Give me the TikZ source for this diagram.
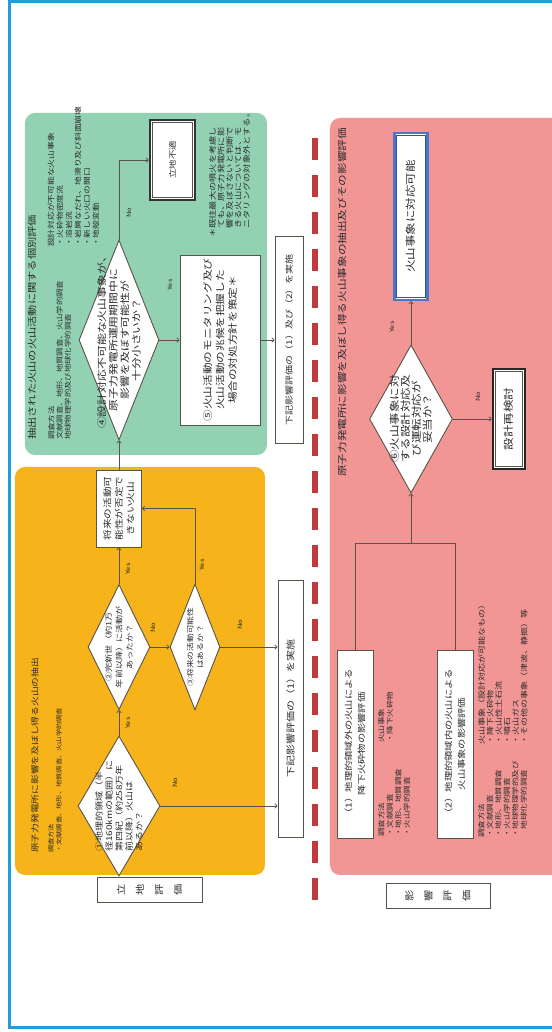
\documentclass[tikz,border=0pt]{standalone}
\usepackage{fontspec}
\usetikzlibrary{shapes.geometric,arrows.meta}
\newfontfamily\jp[FakeStretch=1.25]{Noto Sans CJK JP}
\definecolor{orng}{HTML}{F7B31A}
\definecolor{grn}{HTML}{92D2B3}
\definecolor{pnk}{HTML}{F29595}
\definecolor{frm}{HTML}{1E9FDB}
\definecolor{rdash}{HTML}{C0393B}
\definecolor{ln}{HTML}{5A5248}
\definecolor{txt}{HTML}{2B2B2B}
\definecolor{okblue}{HTML}{4A78C8}
\newcommand{\fs}[2]{\fontsize{#1}{#2}\selectfont}
\begin{document}
\begin{tikzpicture}[x=1pt,y=1pt,rotate=90,transform shape,
  box/.style={draw=ln, fill=white, line width=0.9pt, inner sep=1pt, align=center, text=txt},
  dia/.style={diamond, draw=ln, fill=white, line width=0.9pt, inner sep=0pt},
  dtext/.style={align=center, text=txt, inner sep=0pt},
  txtl/.style={align=left, text=txt, inner sep=0pt, anchor=north west},
  arr/.style={draw=ln, line width=0.8pt, -{To[length=3pt,width=5pt]}},
  lnk/.style={draw=ln, line width=0.8pt},
  yn/.style={text=txt, font=\jp\fs{6}{7}, inner sep=0pt},
  panel/.style={rounded corners=10pt, draw=none},
]
\useasboundingbox (0,0) rectangle (1032,551);
% panels
\path[panel, fill=orng] (157,286) rectangle (565,536);
\path[panel, fill=grn] (577,284) rectangle (919,526);
\path[panel, fill=pnk] (157,-30) rectangle (914,221);
% frame
\draw[frm, line width=3pt] (4,-10) -- (4,541) -- (1030,541) -- (1030,-10);
% dashed separator
\draw[rdash, line width=6pt, dash pattern=on 22pt off 15pt] (894,236) -- (130,236);

% section labels
\node[box, line width=0.8pt, minimum width=25, minimum height=105, font=\jp\fs{9}{19}] (lab1) at (142.5,401.5) {立\\地\\評\\価};
\node[box, line width=0.8pt, minimum width=25, minimum height=104, font=\jp\fs{9}{19}] (lab2) at (136.5,113) {影\\響\\評\\価};

% orange panel texts
\node[txtl, anchor=west, font=\jp\fs{7.8}{9}] (ot) at (179,516) {原子力発電所に影響を及ぼし得る火山の抽出};
\node[txtl, font=\jp\fs{5.8}{8}] (om) at (179,503) {調査方法\\・文献調査、地形、地質調査、火山学的調査};

% diamonds in orange
\node[dia, minimum width=140, minimum height=82] (d1) at (226,432) {};
\node[dtext, align=left, font=\jp\fs{8}{10}] (d1t) at (d1) {①地理的領域（半\\径160kmの範囲）に\\第四紀（約258万年\\前以降）火山は\\あるか？};
\node[dia, minimum width=125, minimum height=62] (d2) at (385,432) {};
\node[dtext, font=\jp\fs{7.3}{10.5}] (d2t) at (d2) {②完新世（約1万\\年前以降）に活動が\\あったか？};
\node[dia, minimum width=126, minimum height=50] (d3) at (385,356) {};
\node[dtext, font=\jp\fs{7}{10}] (d3t) at (d3) {③将来の活動可能性\\はあるか？};
\node[box, minimum width=77, minimum height=45, font=\jp\fs{8.5}{11.5}] (bfut) at (523.5,432) {将来の活動可\\能性が否定で\\きない火山};
\node[box, minimum width=257, minimum height=25, font=\jp\fs{8.8}{10}] (bi1) at (323.5,260.5) {下記影響評価の（1）を実施};

% green panel texts
\node[txtl, anchor=west, font=\jp\fs{9}{10}] (gt) at (592,519) {抽出された火山の火山活動に関する個別評価};
\node[txtl, font=\jp\fs{6.7}{8.3}] (gm) at (592,503) {調査方法\\文献調査、地形、地質調査、火山学的調査\\地球物理学的及び地球化学的調査};
\node[txtl, font=\jp\fs{7}{9}] (ge) at (785,503.5) {設計対応が不可能な火山事象\\・火砕物密度流\\・溶岩流\\・岩屑なだれ、地滑り及び斜面崩壊\\・新しい火口の開口\\・地殻変動};
\node[txtl, font=\jp\fs{7.4}{8.5}] (gf) at (794,342) {＊既往最大の噴火を考慮し\\\phantom{＊}ても、原子力発電所に影\\\phantom{＊}響を及ぼさないと判断で\\\phantom{＊}きる火山については、モ\\\phantom{＊}ニタリングの対象外とする。};

\node[dia, minimum width=200, minimum height=80] (d4) at (692,432) {};
\node[dtext, font=\jp\fs{9.5}{11.5}] (d4t) at (d4) {④設計対応不可能な火山事象が、\\原子力発電所運用期間中に\\影響を及ぼす可能性が\\十分小さいか？};
\node[box, draw=black!80, line width=2.5pt, minimum width=80, minimum height=45, font=\jp\fs{7.5}{9}] (bnot) at (872,378.5) {立地不適};
\draw[ln, line width=0.6pt] ([shift={(3.5,3.5)}]bnot.south west) rectangle ([shift={(-3.5,-3.5)}]bnot.north east);
\node[box, minimum width=170, minimum height=80, font=\jp\fs{9.3}{12.5}] (b5) at (692,331) {⑤火山活動のモニタリング及び\\火山活動の兆候を把握した\\場合の対処方針を策定＊};
\node[box, minimum width=207, minimum height=28, font=\jp\fs{8}{10}] (bi12) at (692,262) {下記影響評価の（1）及び（2）を実施};

% pink panel
\node[txtl, anchor=west, font=\jp\fs{9.3}{10}] (pt) at (555,209) {原子力発電所に影響を及ぼし得る火山事象の抽出及びその影響評価};
\node[box, minimum width=188, minimum height=36, font=\jp\fs{8.2}{13}] (b1) at (288,196) {（1）地理的領域外の火山による\\降下火砕物の影響評価};
\node[box, minimum width=188, minimum height=36, font=\jp\fs{8.2}{13}] (b2) at (288,96) {（2）地理的領域内の火山による\\火山事象の影響評価};
\node[txtl, font=\jp\fs{6.8}{8.5}] (b1m) at (195,173) {調査方法\\・文献調査\\・地形、地質調査\\・火山学的調査};
\node[txtl, font=\jp\fs{6.8}{8.5}] (b1e) at (289,173) {火山事象\\・降下火砕物};
\node[txtl, font=\jp\fs{6.8}{8.5}] (b2m) at (194,73) {調査方法\\・文献調査\\・地形、地質調査\\・火山学的調査\\・地球物理学的及び\\\phantom{・}地球化学的調査};
\node[txtl, font=\jp\fs{7.2}{8.5}] (b2e) at (287,73) {火山事象（設計対応が可能なもの）\\・降下火砕物\\・火山性土石流\\・噴石\\・火山ガス\\・その他の事象（津波、静振）等};

\node[dia, minimum width=148, minimum height=83] (d6) at (613,140) {};
\node[dtext, font=\jp\fs{10}{11}] (d6t) at (d6) {⑥火山事象に対\\する設計対応及\\び運転対応が\\妥当か？};
\node[box, draw=okblue, line width=2.5pt, minimum width=167, minimum height=33, font=\jp\fs{10}{12}] (bok) at (815.5,140) {火山事象に対応可能};
\draw[okblue!70!black, line width=0.6pt] ([shift={(3.5,3.5)}]bok.south west) rectangle ([shift={(-3.5,-3.5)}]bok.north east);
\node[box, draw=black!85, line width=2.5pt, minimum width=100, minimum height=32, font=\jp\fs{10}{12}] (bre) at (613,42) {設計再検討};
\draw[ln, line width=0.6pt] ([shift={(3.5,3.5)}]bre.south west) rectangle ([shift={(-3.5,-3.5)}]bre.north east);

% connectors
\coordinate (k3) at (523.5,356);
\coordinate (k4) at (872,432);
\coordinate (j) at (489,140);
\coordinate (j1) at (489,196);
\coordinate (j2) at (489,96);
\draw[arr] (d1.east) -- (d2.west);
\draw[arr] (d2.east) -- (bfut.west);
\draw[arr] (d2.south) -- (d3.north);
\draw[arr] (d3.east) -- (k3) -- (bfut.south);
\draw[arr] (d3.south) -- (d3.south |- bi1.north);
\draw[arr] (d1.south) -- (d1.south |- bi1.north);
\draw[arr] (bfut.east) -- (d4.west);
\draw[arr] (d4.east) -- (k4) -- (bnot.north);
\draw[arr] (d4.south) -- (b5.north);
\draw[arr] (b5.south) -- (bi12.north);
\draw[arr] (d6.east) -- (bok.west);
\draw[arr] (d6.south) -- (bre.north);
\draw[lnk] (b1.east) -- (j1) -- (j2) -- (b2.east);
\draw[arr] (j) -- (d6.west);

% yes / no labels
\node[yn] (y1) at (309,423) {Yes};
\node[yn] (y2) at (463,423) {Yes};
\node[yn] (n2) at (404,398) {No};
\node[yn] (y3) at (467,349) {Yes};
\node[yn] (n3) at (407,311) {No};
\node[yn] (n1) at (249,376) {No};
\node[yn] (n4) at (819,422) {No};
\node[yn] (y4) at (747,381) {Yes};
\node[yn] (y6) at (705,159) {Yes};
\node[yn] (n6) at (635,73) {No};
\end{tikzpicture}
\end{document}
